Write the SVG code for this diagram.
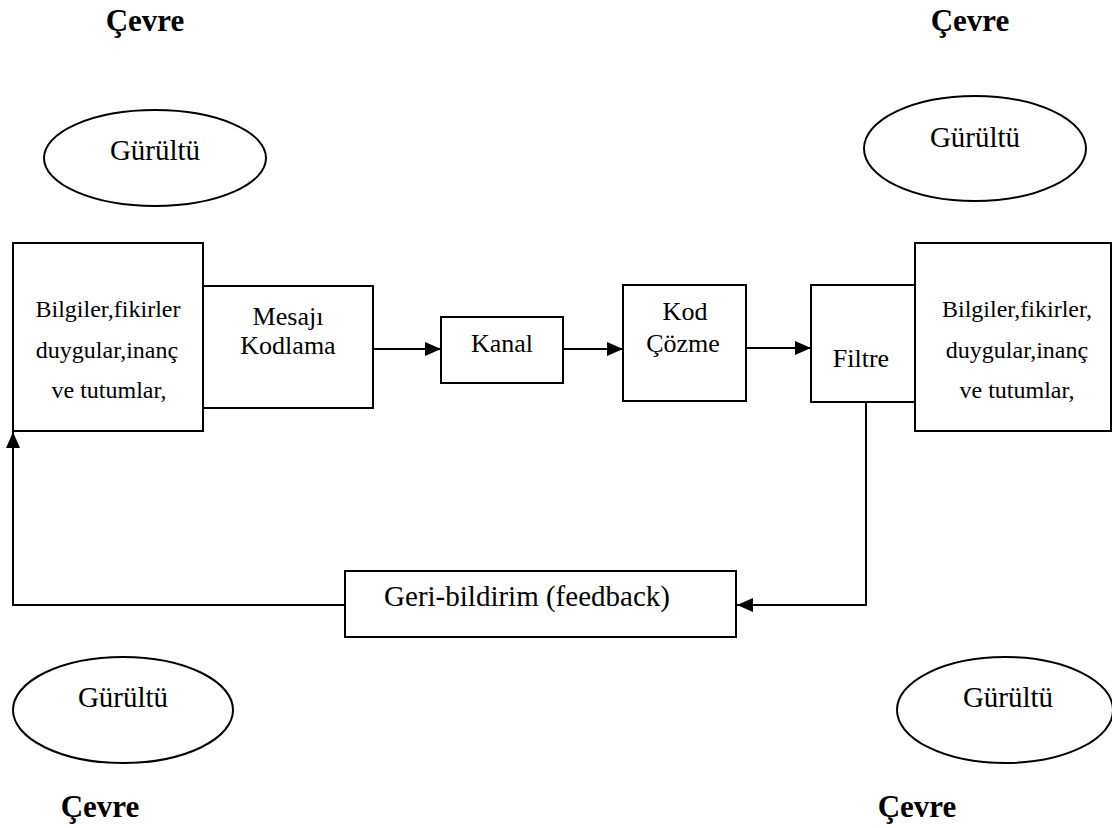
<svg xmlns="http://www.w3.org/2000/svg" width="1112" height="828" viewBox="0 0 1112 828">
<defs>
<style>
.box{fill:#fff;stroke:#000;stroke-width:2}
.ell{fill:none;stroke:#000;stroke-width:2}
.ln{fill:none;stroke:#000;stroke-width:2}
text{font-family:"Liberation Serif","Times New Roman",serif;fill:#000;text-anchor:middle}
.s24{font-size:24px}
.s26{font-size:26px}
.s29{font-size:29px}
.cevre{font-size:31px;font-weight:bold}
</style>
<marker id="ah" markerUnits="userSpaceOnUse" markerWidth="16" markerHeight="14" refX="16" refY="7" orient="auto">
<path d="M0,0 L16,7 L0,14 z" fill="#000"/>
</marker>
</defs>
<rect width="1112" height="828" fill="#fff"/>

<g id="connectors">
<line class="ln" x1="373" y1="349" x2="441" y2="349" marker-end="url(#ah)"/>
<line class="ln" x1="563" y1="349" x2="623" y2="349" marker-end="url(#ah)"/>
<line class="ln" x1="746" y1="348" x2="811" y2="348" marker-end="url(#ah)"/>
<polyline class="ln" points="866,402 866,605 737,605" marker-end="url(#ah)"/>
<polyline class="ln" points="345,605 13,605 13,432" marker-end="url(#ah)"/>
</g>

<g id="cevre-tl"><text class="cevre" x="145" y="31">Çevre</text></g>
<g id="cevre-tr"><text class="cevre" x="970" y="31">Çevre</text></g>
<g id="cevre-bl"><text class="cevre" x="100" y="817">Çevre</text></g>
<g id="cevre-br"><text class="cevre" x="917" y="817">Çevre</text></g>

<g id="gurultu-tl">
<ellipse class="ell" cx="155" cy="158" rx="111" ry="48"/>
<text class="s29" x="155" y="160">Gürültü</text>
</g>
<g id="gurultu-tr">
<ellipse class="ell" cx="975" cy="148.5" rx="111" ry="52.5"/>
<text class="s29" x="975" y="147">Gürültü</text>
</g>
<g id="gurultu-bl">
<ellipse class="ell" cx="123" cy="710" rx="110" ry="53"/>
<text class="s29" x="123" y="707">Gürültü</text>
</g>
<g id="gurultu-br">
<ellipse class="ell" cx="1005" cy="710" rx="108" ry="53"/>
<text class="s29" x="1008" y="707">Gürültü</text>
</g>

<g id="kaynak">
<rect class="box" x="13" y="243" width="190" height="188"/>
<text class="s24" x="108" y="317">Bilgiler,fikirler</text>
<text class="s24" x="107" y="358">duygular,inanç</text>
<text class="s24" x="109" y="398">ve tutumlar,</text>
</g>

<g id="kodlama">
<rect class="box" x="203" y="286" width="170" height="122"/>
<text class="s26" x="288" y="325">Mesajı</text>
<text class="s26" x="288" y="354">Kodlama</text>
</g>

<g id="kanal">
<rect class="box" x="441" y="317" width="122" height="66"/>
<text class="s26" x="502" y="352">Kanal</text>
</g>

<g id="kodcozme">
<rect class="box" x="623" y="285" width="123" height="116"/>
<text class="s26" x="685" y="320">Kod</text>
<text class="s26" x="683" y="352">Çözme</text>
</g>

<g id="filtre">
<rect class="box" x="811" y="285" width="104" height="117"/>
<text class="s26" x="861" y="367">Filtre</text>
</g>

<g id="alici">
<rect class="box" x="915" y="243" width="196" height="188"/>
<text class="s24" x="1017" y="317">Bilgiler,fikirler,</text>
<text class="s24" x="1017" y="358">duygular,inanç</text>
<text class="s24" x="1017" y="398">ve tutumlar,</text>
</g>

<g id="geribildirim">
<rect class="box" x="345" y="571" width="391" height="66"/>
<text class="s29" x="527" y="606">Geri-bildirim (feedback)</text>
</g>
</svg>
